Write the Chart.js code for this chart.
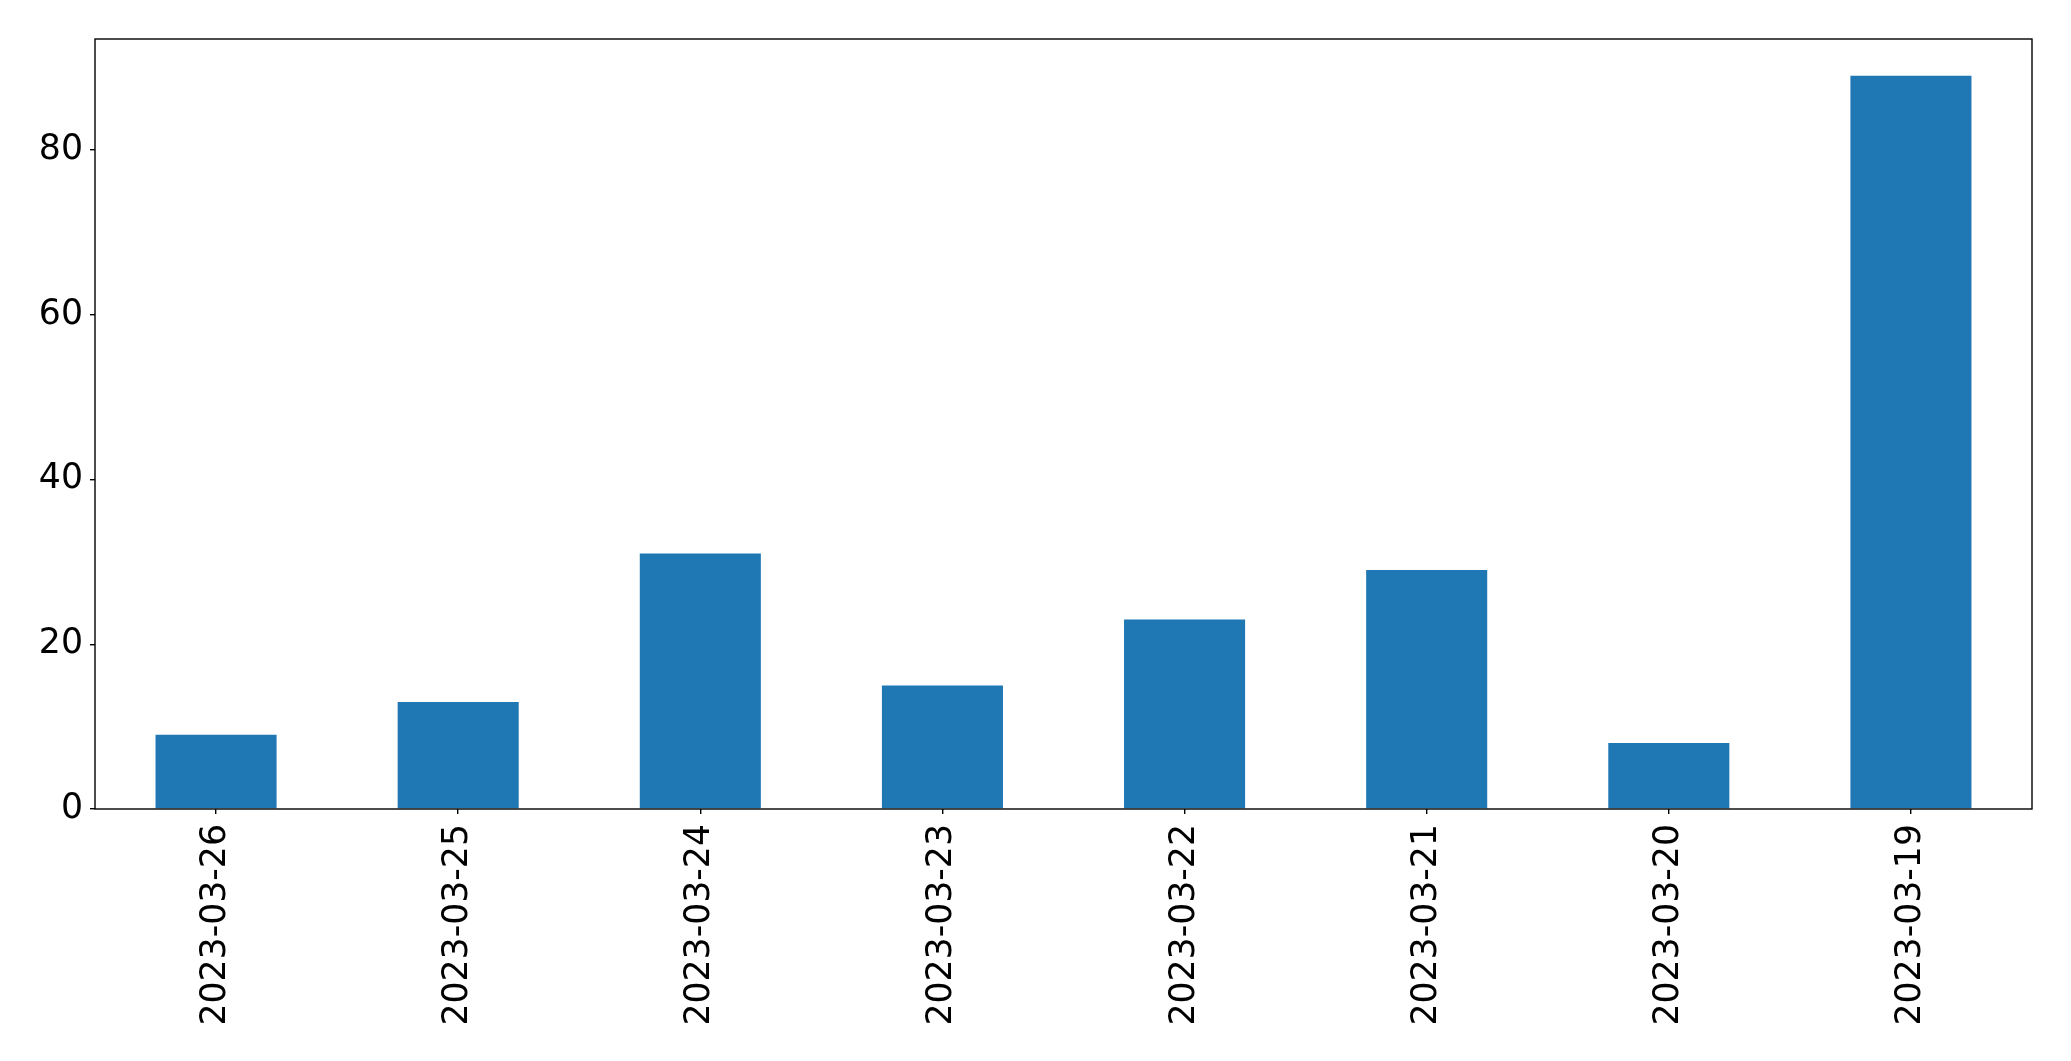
<!DOCTYPE html>
<html>
<head>
<meta charset="utf-8">
<script src="https://cdn.jsdelivr.net/npm/chart.js@4.4.0/dist/chart.umd.min.js"></script>
<style>
  html, body { margin: 0; padding: 0; background: #ffffff; }
  #wrap { width: 2071px; height: 1061px; position: relative; }
</style>
</head>
<body>
<div id="wrap"><canvas id="c"></canvas></div>
<script>
const categories = ["2023-03-26", "2023-03-25", "2023-03-24", "2023-03-23", "2023-03-22", "2023-03-21", "2023-03-20", "2023-03-19"];
const counts = [9, 13, 31, 15, 23, 29, 8, 89];
const yTicks = [0, 20, 40, 60, 80];
const yMax = 93.45;

const frame = {
  id: 'frame',
  afterDraw(chart) {
    const a = chart.chartArea, ctx = chart.ctx;
    ctx.save();
    ctx.strokeStyle = '#000';
    ctx.lineWidth = 1.4;
    ctx.strokeRect(a.left, a.top, a.right - a.left, a.bottom - a.top);
    ctx.restore();
  }
};

new Chart(document.getElementById('c'), {
  type: 'bar',
  data: {
    labels: categories,
    datasets: [{
      data: counts,
      backgroundColor: '#1f77b4',
      borderWidth: 0,
      barPercentage: 0.5,
      categoryPercentage: 1.0
    }]
  },
  options: {
    responsive: true,
    maintainAspectRatio: false,
    animation: false,
    layout: { padding: { left: 0, top: 39, right: 39, bottom: 0 } },
    plugins: { legend: { display: false }, tooltip: { enabled: false } },
    scales: {
      x: {
        offset: true,
        grid: { display: true, offset: false, drawOnChartArea: false, drawTicks: true, tickLength: 5, color: '#000', lineWidth: 1.4 },
        border: { display: false },
        ticks: {
          color: '#000',
          font: { family: 'DejaVu Sans', size: 34.7 },
          minRotation: 90, maxRotation: 90,
          padding: 10,
          autoSkip: false
        },
        afterFit(s) { s.height = 252; }
      },
      y: {
        min: 0, max: yMax,
        grid: { display: true, drawOnChartArea: false, drawTicks: true, tickLength: 5, color: '#000', lineWidth: 1.4 },
        border: { display: false },
        ticks: {
          color: '#000',
          font: { family: 'DejaVu Sans', size: 34.7 },
          padding: 7
        },
        afterBuildTicks(s) { s.ticks = yTicks.map(v => ({ value: v })); },
        afterFit(s) { s.width = 95; }
      }
    }
  },
  plugins: [frame]
});
</script>
</body>
</html>
